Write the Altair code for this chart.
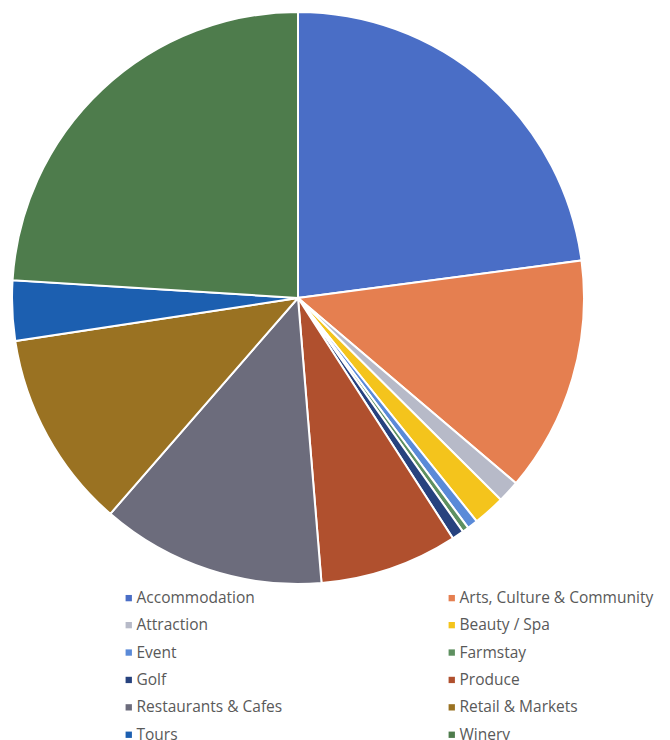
import altair as alt
import pandas as pd

categories = ["Accommodation", "Arts, Culture & Community", "Attraction", "Beauty / Spa",
              "Event", "Farmstay", "Golf", "Produce", "Restaurants & Cafes",
              "Retail & Markets", "Tours", "Winery"]
values = [22.9, 13.3, 1.25, 1.8, 0.6, 0.36, 0.67, 7.8, 12.7, 11.2, 3.4, 24.0]
colors = ["#4A6EC6", "#E57F50", "#B7BAC8", "#F4C41C", "#5A8AD8", "#5E9060",
          "#27427E", "#B0502E", "#6C6C7C", "#9A7222", "#1C5FB0", "#4E7C4C"]

df = pd.DataFrame({"category": categories, "value": values, "order": list(range(len(categories)))})

chart = alt.Chart(df).mark_arc(outerRadius=286, stroke="white", strokeWidth=2).encode(
    theta=alt.Theta("value:Q", stack=True),
    order=alt.Order("order:Q"),
    color=alt.Color(
        "category:N",
        scale=alt.Scale(domain=categories, range=colors),
        legend=alt.Legend(
            title=None, orient="none", legendX=103, legendY=571,
            direction="horizontal",
            columns=2, columnPadding=161, rowPadding=10.4,
            symbolType="square", symbolSize=40, symbolStrokeWidth=0,
            labelFont="Open Sans", labelFontSize=15.5, labelColor="#595959",
            labelLimit=300, labelOffset=0,
        ),
    ),
).properties(
    width=560, height=558,
    padding={"left": 0, "top": 0, "right": 0, "bottom": 0},
).configure_view(stroke=None)

chart.save("out.html", embed_options={"renderer": "svg", "actions": False})
